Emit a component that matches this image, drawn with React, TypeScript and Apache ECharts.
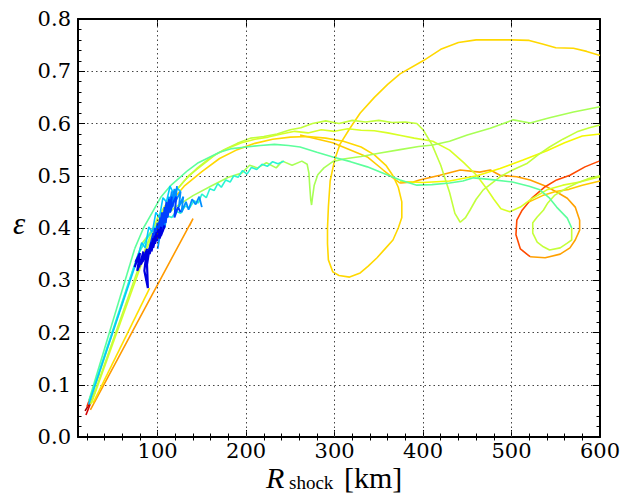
import React, { useEffect, useRef } from "react";
import * as echarts from "echarts";

// ---------- axis definitions ----------
const xMajor = [100, 200, 300, 400, 500, 600];
const xGrid = [100, 200, 300, 400, 500];
const xMinor = [20, 40, 60, 80, 120, 140, 160, 180, 220, 240, 260, 280, 320, 340, 360, 380, 420, 440, 460, 480, 520, 540, 560, 580];

// ---------- trajectories (R_shock [km], epsilon) ----------
const darkBlue = [[74,0.325],[78,0.345],[75,0.335],[80,0.352],[77,0.318],[82,0.342],[79,0.325],[84,0.355],[81,0.330],[86,0.348],[83,0.335],[88,0.360],[85,0.318],[89,0.285],[88,0.330],[91,0.362],[89,0.345],[93,0.372],[91,0.350],[95,0.380],[93,0.355],[97,0.385],[95,0.362],[99,0.392],[97,0.370],[101,0.398],[99,0.375],[104,0.402],[102,0.380],[106,0.395],[108,0.405]];
const blue = [[88,0.340],[92,0.370],[90,0.355],[95,0.390],[93,0.360],[97,0.400],[96,0.370],[100,0.410],[98,0.380],[103,0.420],[101,0.390],[105,0.430],[104,0.385],[108,0.440],[106,0.400],[110,0.450],[109,0.410],[113,0.455],[111,0.420],[116,0.460],[114,0.430],[118,0.450],[121,0.460],[119,0.420],[123,0.440],[126,0.430]];
const azure = [[100,0.360],[104,0.400],[102,0.380],[107,0.420],[105,0.390],[110,0.440],[108,0.400],[113,0.460],[111,0.420],[116,0.470],[114,0.430],[119,0.475],[117,0.440],[122,0.480],[120,0.450],[126,0.470],[124,0.440],[129,0.460],[127,0.430],[132,0.450],[135,0.435],[139,0.455],[143,0.445],[147,0.460],[150,0.440]];
const skyBlueA = [[22,0.062],[76,0.335]];
const skyBlueB = [[76,0.335],[82,0.372],[86,0.362],[90,0.402],[94,0.392],[98,0.430],[102,0.420],[106,0.458],[110,0.450],[114,0.480],[118,0.466],[122,0.476],[126,0.470]];
const turquoiseA = [[23,0.070],[68,0.300]];
const turquoiseB = [[68,0.300],[78,0.350],[88,0.380],[96,0.400],[104,0.412],[110,0.424],[116,0.420],[121,0.432],[126,0.428],[131,0.442],[136,0.438],[141,0.452],[146,0.448],[150,0.465],[155,0.458],[159,0.475],[164,0.472],[168,0.485],[172,0.478],[177,0.492],[182,0.488],[186,0.500],[191,0.497],[196,0.510],[201,0.503],[206,0.516],[212,0.512],[218,0.522],[224,0.518],[230,0.527],[236,0.523],[243,0.528]];
const aquaA = [[22,0.068],[74,0.360]];
const aquaB = [[74,0.360],[84,0.400],[94,0.430],[104,0.460],[114,0.480],[124,0.495],[134,0.510],[146,0.525],[158,0.535],[170,0.545],[184,0.552],[200,0.555],[216,0.558],[232,0.560],[248,0.558],[261,0.555],[280,0.545],[298,0.536],[318,0.527],[337,0.517],[355,0.505],[374,0.492],[393,0.482],[410,0.483],[430,0.486],[445,0.490],[457,0.496],[475,0.493],[501,0.488],[520,0.480],[532,0.473],[543,0.457],[551,0.440],[563,0.419],[568,0.400]];
const innerLoop = [[568,0.400],[568,0.377],[563,0.371],[555,0.362],[543,0.358],[536,0.364],[529,0.373],[524,0.390],[524,0.410],[529,0.421],[536,0.434],[541,0.448],[549,0.463],[563,0.477],[574,0.486],[586,0.494],[600,0.500]];
const dipLineA = [[23,0.065],[82,0.370]];
const dipLineB = [[82,0.370],[100,0.410],[120,0.440],[140,0.462],[160,0.480],[180,0.497],[195,0.505],[204,0.520],[213,0.515],[223,0.525],[234,0.515],[241,0.528],[252,0.520],[263,0.528],[269,0.522],[271,0.505],[272,0.478],[273,0.455],[274,0.444],[275,0.458],[277,0.482],[281,0.502],[288,0.515],[298,0.527],[310,0.532],[330,0.537],[350,0.543],[374,0.550],[395,0.556],[411,0.559],[430,0.566],[450,0.578],[476,0.591],[502,0.607],[521,0.601],[543,0.611],[570,0.622],[600,0.632]];
const topLineA = [[24,0.062],[86,0.360]];
const topLineB = [[86,0.360],[100,0.420],[115,0.460],[130,0.490],[145,0.515],[160,0.535],[175,0.550],[190,0.562],[205,0.572],[220,0.575],[235,0.580],[250,0.588],[262,0.592],[275,0.600],[290,0.605],[305,0.600],[320,0.606],[335,0.603],[350,0.606],[365,0.602],[380,0.603],[393,0.600],[400,0.588],[410,0.560],[420,0.520],[430,0.468],[436,0.428],[442,0.411],[448,0.420],[453,0.434],[460,0.455],[468,0.473],[487,0.498],[500,0.510],[518,0.524],[530,0.540],[543,0.555],[558,0.570],[574,0.584],[588,0.592],[600,0.597]];
const secondLineA = [[25,0.064],[90,0.370]];
const secondLineB = [[90,0.370],[105,0.430],[120,0.470],[135,0.500],[150,0.520],[165,0.540],[180,0.553],[195,0.563],[210,0.570],[225,0.574],[240,0.580],[255,0.585],[270,0.582],[285,0.588],[300,0.585],[315,0.590],[330,0.587],[345,0.586],[360,0.582],[375,0.577],[390,0.572],[411,0.566],[430,0.549],[446,0.525],[461,0.500],[472,0.475],[480,0.455],[488,0.437],[498,0.431],[510,0.440],[521,0.454],[540,0.473],[558,0.482],[577,0.488],[600,0.498]];
const yellowA = [[27,0.065],[91,0.285]];
const yellowB = [[374,0.489],[400,0.487],[430,0.490],[461,0.500],[487,0.514],[513,0.530],[540,0.548],[560,0.563],[580,0.576],[600,0.580]];
const goldArc = [[110,0.440],[130,0.480],[150,0.508],[170,0.533],[190,0.550],[210,0.562],[230,0.570],[250,0.574],[270,0.575],[290,0.572],[310,0.566],[330,0.555],[345,0.540],[358,0.520],[366,0.500],[372,0.478],[376,0.450],[376,0.420],[372,0.400],[366,0.377],[357,0.360],[348,0.343],[338,0.327],[329,0.314],[317,0.306],[305,0.309],[298,0.316],[293,0.339],[292,0.370],[292,0.400],[293,0.440],[295,0.490],[300,0.530],[306,0.560],[317,0.590],[329,0.620],[345,0.650],[360,0.675],[374,0.695],[400,0.720],[420,0.742],[440,0.755],[460,0.760],[500,0.760],[520,0.759],[535,0.752],[550,0.745],[570,0.744],[585,0.738],[600,0.730]];
const orangeA = [[24,0.052],[140,0.418],[136,0.404]];
const goldDesc = [[261,0.578],[298,0.563],[337,0.536],[355,0.511],[366,0.496],[374,0.486]];
const orangeB = [[374,0.486],[389,0.488],[396,0.492],[419,0.501],[442,0.511],[464,0.507],[476,0.511],[487,0.501],[506,0.498],[521,0.492],[536,0.482],[551,0.469],[563,0.457],[572,0.440],[577,0.415],[577,0.396],[572,0.377],[566,0.362],[555,0.350],[538,0.343],[521,0.345]];
const redLoop = [[521,0.345],[510,0.360],[505,0.387],[506,0.415],[512,0.434],[523,0.457],[538,0.479],[551,0.492],[566,0.501],[583,0.517],[599,0.528]];
const goldTail = [[520,0.450],[535,0.462],[550,0.470],[565,0.474],[580,0.482],[600,0.490]];
const redStart = [[19,0.042],[30,0.090]];
const darkRedStart = [[18,0.050],[27,0.075]];
const redOrangeStart = [[20,0.058],[34,0.122],[32,0.113]];

const traces: [number[][], string, number][] = [
  [redStart, "#d40000", 1.6],
  [darkRedStart, "#a00000", 1.6],
  [redOrangeStart, "#ff3000", 1.6],
  [orangeA, "#ff9a00", 1.6],
  [goldDesc, "#ffcc00", 1.6],
  [orangeB, "#ffa000", 1.6],
  [redLoop, "#ff4a00", 1.6],
  [goldTail, "#ffc800", 1.6],
  [yellowA, "#ffe000", 1.6],
  [yellowB, "#f4f800", 1.6],
  [goldArc, "#ffd800", 1.6],
  [secondLineA, "#d8ff26", 1.6],
  [secondLineB, "#d8ff26", 1.6],
  [topLineA, "#c2ff3c", 1.6],
  [topLineB, "#c2ff3c", 1.6],
  [dipLineA, "#a8ff55", 1.6],
  [dipLineB, "#a8ff55", 1.6],
  [innerLoop, "#c4ff3a", 1.6],
  [aquaA, "#5cff9c", 1.6],
  [aquaB, "#5cff9c", 1.6],
  [turquoiseA, "#28f5d2", 1.6],
  [turquoiseB, "#28f5d2", 1.6],
  [skyBlueA, "#00c8ff", 1.6],
  [skyBlueB, "#00c8ff", 1.6],
  [azure, "#0090ff", 1.8],
  [blue, "#0040ff", 2],
  [darkBlue, "#0000e0", 2.2],
];

const TICK_FONT = "DejaVu Serif";
const FONT = "Liberation Serif";

export default function App() {
  const ref = useRef<HTMLDivElement>(null);
  useEffect(() => {
    if (!ref.current) return;
    const chart = echarts.init(ref.current, undefined, { renderer: "svg" });
    const gridStyle = { type: [1.5, 3] as any, color: "#444", width: 1 };
    const series: any[] = traces.map(([data, color, w]) => ({
      type: "line",
      data,
      showSymbol: false,
      symbol: "none",
      silent: true,
      z: 3,
      lineStyle: { color, width: w },
      clip: true,
    }));
    series.push({
      type: "line",
      data: [],
      symbol: "none",
      z: 1,
      silent: true,
      markLine: {
        silent: true,
        symbol: "none",
        label: { show: false },
        lineStyle: gridStyle,
        data: xGrid.map((v) => ({ xAxis: v })),
      },
    });
    const xBase = {
      type: "value",
      min: 10,
      max: 600,
      gridIndex: 0,
      offset: 0,
      splitLine: { show: false },
    };
    const tickLabel = { fontFamily: TICK_FONT, fontSize: 21, color: "#000" };
    chart.setOption({
      animation: false,
      grid: { left: 78, right: 34, top: 19, bottom: 57, containLabel: false },
      xAxis: [
        {
          ...xBase,
          position: "bottom",
          axisLine: { show: true, onZero: false, lineStyle: { color: "#000", width: 2 } },
          axisTick: { show: true, inside: true, length: 7, customValues: xMajor, lineStyle: { color: "#000", width: 1 } },
          axisLabel: { show: true, customValues: xMajor, ...tickLabel, margin: 3 },
        },
        {
          ...xBase,
          position: "bottom",
          axisLine: { show: false },
          axisTick: { show: true, inside: true, length: 3.5, customValues: xMinor, lineStyle: { color: "#000", width: 1 } },
          axisLabel: { show: false },
        },
        {
          ...xBase,
          position: "top",
          axisLine: { show: true, onZero: false, lineStyle: { color: "#000", width: 2 } },
          axisTick: { show: true, inside: true, length: 7, customValues: xMajor, lineStyle: { color: "#000", width: 1 } },
          axisLabel: { show: false },
        },
        {
          ...xBase,
          position: "top",
          axisLine: { show: false },
          axisTick: { show: true, inside: true, length: 3.5, customValues: xMinor, lineStyle: { color: "#000", width: 1 } },
          axisLabel: { show: false },
        },
      ],
      yAxis: [
        {
          type: "value",
          min: 0,
          max: 0.8,
          interval: 0.1,
          position: "left",
          axisLine: { show: true, onZero: false, lineStyle: { color: "#000", width: 2 } },
          axisTick: { show: true, inside: true, length: 7, lineStyle: { color: "#000", width: 1 } },
          minorTick: { show: true, splitNumber: 5, length: 3.5, lineStyle: { color: "#000", width: 1 } },
          axisLabel: { ...tickLabel, margin: 7, formatter: (v: number) => v.toFixed(1) },
          splitLine: { show: true, lineStyle: gridStyle },
        },
        {
          type: "value",
          min: 0,
          max: 0.8,
          interval: 0.1,
          position: "right",
          axisLine: { show: true, onZero: false, lineStyle: { color: "#000", width: 2 } },
          axisTick: { show: true, inside: true, length: 7, lineStyle: { color: "#000", width: 1 } },
          minorTick: { show: true, splitNumber: 5, length: 3.5, lineStyle: { color: "#000", width: 1 } },
          axisLabel: { show: false },
          splitLine: { show: false },
        },
      ],
      graphic: [
        { type: "text", left: 13, top: 208, style: { text: "ε", font: `italic 31px ${FONT}`, fill: "#000" } },
        { type: "text", left: 266, top: 462, style: { text: "R", font: `italic 30px ${FONT}`, fill: "#000" } },
        { type: "text", left: 289, top: 473, style: { text: "shock", font: `19px ${FONT}`, fill: "#000" } },
        { type: "text", left: 344, top: 462, style: { text: "[km]", font: `30px ${FONT}`, fill: "#000" } },
      ],
      series,
    });
    return () => chart.dispose();
  }, []);
  return <div ref={ref} style={{ position: "absolute", left: 0, top: 0, width: 634, height: 494 }} />;
}
